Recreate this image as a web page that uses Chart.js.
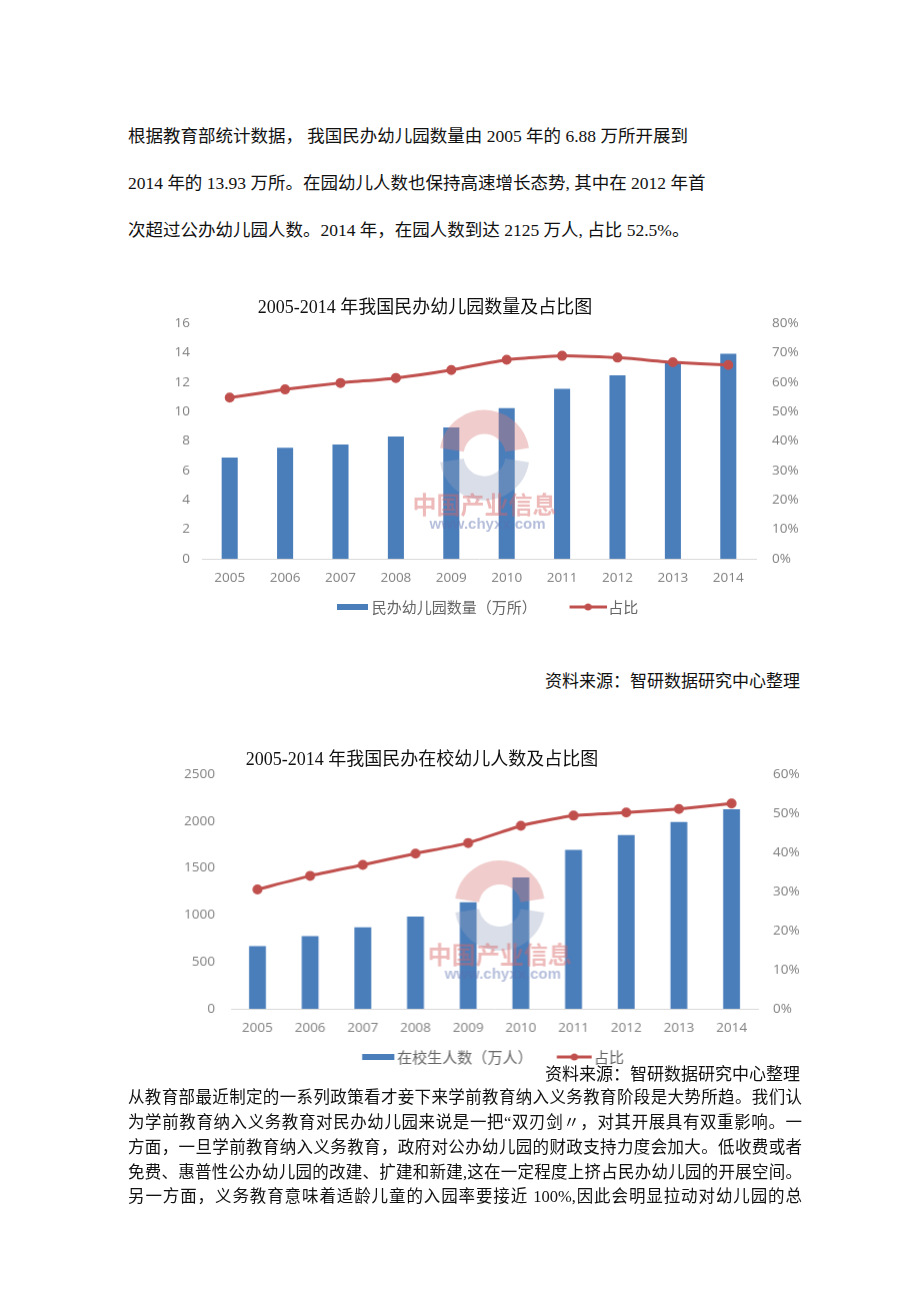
<!DOCTYPE html>
<html>
<head>
<meta charset="utf-8">
<script src="https://cdn.jsdelivr.net/npm/chart.js@4.4.1/dist/chart.umd.min.js"></script>
<style>
  body { margin: 0; background: #fff; }
  #page { position: relative; width: 920px; height: 1301px; background: #fff; overflow: hidden;
    font-family: "Liberation Serif", "Noto Sans CJK SC", serif; color: #111; }
  .ln { position: absolute; left: 128px; white-space: nowrap; font-size: 17.5px; line-height: 24px; }
  .jl { position: absolute; left: 128px; width: 674px; white-space: nowrap; font-size: 16.5px; line-height: 24px;
    text-align: justify; text-align-last: justify; }
  .src { position: absolute; right: 120px; font-size: 17px; line-height: 24px; white-space: nowrap; }
  .ttl { position: absolute; font-size: 18px; line-height: 24px; white-space: nowrap; transform: translateX(-50%); }
  .cw { position: absolute; }
</style>
</head>
<body>
<div id="page">
  <div class="ln" style="top:124px">根据教育部统计数据， 我国民办幼儿园数量由 2005 年的 6.88 万所开展到</div>
  <div class="ln" style="top:171px">2014 年的 13.93 万所。在园幼儿人数也保持高速增长态势, 其中在 2012 年首</div>
  <div class="ln" style="top:218px">次超过公办幼儿园人数。2014 年，在园人数到达 2125 万人, 占比 52.5%。</div>

  <div class="cw" style="left:160px;top:290px;width:651px;height:333.5px"><canvas id="c1"></canvas></div>
  <div class="ttl" style="left:425px;top:295px">2005-2014 年我国民办幼儿园数量及占比图</div>
  <div class="src" style="top:670px">资料来源：智研数据研究中心整理</div>

  <div class="cw" style="left:160px;top:740px;width:662.5px;height:333.5px"><canvas id="c2"></canvas></div>
  <div class="ttl" style="left:422px;top:747px">2005-2014 年我国民办在校幼儿人数及占比图</div>
  <div class="src" style="top:1063px">资料来源：智研数据研究中心整理</div>

  <div class="jl" style="top:1086px">从教育部最近制定的一系列政策看才妾下来学前教育纳入义务教育阶段是大势所趋。我们认</div>
  <div class="jl" style="top:1111px">为学前教育纳入义务教育对民办幼儿园来说是一把“双刃剑〃，对其开展具有双重影响。一</div>
  <div class="jl" style="top:1136px">方面，一旦学前教育纳入义务教育，政府对公办幼儿园的财政支持力度会加大。低收费或者</div>
  <div class="jl" style="top:1161px">免费、惠普性公办幼儿园的改建、扩建和新建,这在一定程度上挤占民办幼儿园的开展空间。</div>
  <div class="jl" style="top:1185px">另一方面，义务教育意味着适龄儿童的入园率要接近 100%,因此会明显拉动对幼儿园的总</div>
</div>

<script>
// 数据：年份、民办幼儿园数量（万所）、在校生人数（万人）及各自占比
const years = ['2005', '2006', '2007', '2008', '2009', '2010', '2011', '2012', '2013', '2014'];
const kgCount = [6.88, 7.54, 7.76, 8.31, 8.92, 10.23, 11.54, 12.46, 13.35, 13.93];
const kgShare = [0.547, 0.575, 0.597, 0.614, 0.641, 0.676, 0.689, 0.683, 0.667, 0.658];
const pupils = [668, 775, 868, 982, 1136, 1399, 1694, 1852, 1990, 2125];
const pupilShare = [0.305, 0.340, 0.368, 0.397, 0.424, 0.468, 0.494, 0.502, 0.511, 0.525];

// 刻度
const countTicks = [0, 2, 4, 6, 8, 10, 12, 14, 16];
const shareTicks1 = [0, 0.1, 0.2, 0.3, 0.4, 0.5, 0.6, 0.7, 0.8];
const pupilTicks = [0, 500, 1000, 1500, 2000, 2500];
const shareTicks2 = [0, 0.1, 0.2, 0.3, 0.4, 0.5, 0.6];

const BLUE = '#4a7ebb';
const RED = '#c0504d';
const TICK_FONT = { family: '"Open Sans", "Noto Sans CJK SC", sans-serif', size: 13.5 };

// 图例小图标（右对齐画在画布里，便于控制与文字的间距）
function icon(w, symW, draw) {
  const c = document.createElement('canvas');
  c.width = w; c.height = 12;
  draw(c.getContext('2d'), w - symW, symW);
  return c;
}
const barIcon = (w, s) => icon(w, s, (g, x0, sw) => {
  g.fillStyle = BLUE; g.fillRect(x0, 3, sw, 6);
});
const lineIcon = (w, s) => icon(w, s, (g, x0, sw) => {
  g.strokeStyle = RED; g.lineWidth = 3;
  g.beginPath(); g.moveTo(x0, 6); g.lineTo(x0 + sw, 6); g.stroke();
  g.fillStyle = RED; g.beginPath(); g.arc(x0 + sw / 2, 6, 3.5, 0, Math.PI * 2); g.fill();
});

// 水印
const watermark = {
  id: 'watermark',
  afterDatasetsDraw(chart) {
    const { ctx, chartArea: a } = chart;
    const cx = a.left + a.width * 0.51, cy = a.top + a.height * 0.56;
    ctx.save();
    ctx.lineWidth = 24;
    ctx.strokeStyle = 'rgba(215,120,120,0.38)';
    ctx.beginPath(); ctx.arc(cx, cy, 33, Math.PI * 1.05, Math.PI * 1.95); ctx.stroke();
    ctx.strokeStyle = 'rgba(150,160,190,0.35)';
    ctx.beginPath(); ctx.arc(cx, cy, 33, Math.PI * 0.05, Math.PI * 0.95); ctx.stroke();
    ctx.textAlign = 'center'; ctx.textBaseline = 'middle';
    ctx.fillStyle = 'rgba(215,100,100,0.45)';
    ctx.font = 'bold 24px "Noto Sans CJK SC"';
    ctx.fillText('中国产业信息', cx, a.top + a.height * 0.77);
    ctx.fillStyle = 'rgba(90,110,175,0.45)';
    ctx.font = 'bold 15px "Liberation Sans", sans-serif';
    ctx.fillText('www.chyxx.com', cx + 3, a.top + a.height * 0.855);
    ctx.restore();
  }
};

function makeChart(id, o) {
  const fix = (w) => (s) => { s.width = w; };
  new Chart(document.getElementById(id), {
    data: {
      labels: years,
      datasets: [
        {
          type: 'line', label: '占比', data: o.share, yAxisID: 'y1',
          borderColor: RED, backgroundColor: RED, borderWidth: 3, tension: 0.15,
          pointRadius: 3.5, pointBackgroundColor: RED, pointBorderColor: RED
        },
        {
          type: 'bar', label: o.barLabel, data: o.bars, yAxisID: 'y',
          backgroundColor: BLUE, barPercentage: o.barPct, categoryPercentage: 1
        }
      ]
    },
    options: {
      responsive: true,
      maintainAspectRatio: false,
      animation: false,
      layout: { padding: { top: o.padTop } },
      plugins: {
        tooltip: { enabled: false },
        legend: {
          position: 'bottom',
          onClick: null,
          labels: {
            usePointStyle: true,
            pointStyleWidth: o.boxW,
            padding: 12.5,
            color: '#666',
            font: { family: '"Noto Sans CJK SC", sans-serif', size: 15 },
            generateLabels: () => [
              // 末尾空白只用来拉开两个图例项的距离
              { text: o.barLabel + o.gap, pointStyle: barIcon(o.barImg[0], o.barImg[1]), fillStyle: BLUE, strokeStyle: BLUE, lineWidth: 0, hidden: false, datasetIndex: 1, fontColor: '#666' },
              { text: '占比', pointStyle: lineIcon(o.lineImg[0], o.lineImg[1]), fillStyle: RED, strokeStyle: RED, lineWidth: 0, hidden: false, datasetIndex: 0, fontColor: '#666' }
            ]
          }
        }
      },
      scales: {
        x: {
          grid: { display: false, drawTicks: false },
          border: { color: '#d9d9d9' },
          ticks: { color: '#7f7f7f', font: TICK_FONT, padding: 11, maxRotation: 0 },
          afterFit: (s) => { s.height = 28; }
        },
        y: {
          position: 'left', min: 0, max: o.leftTicks[o.leftTicks.length - 1],
          grid: { display: false, drawTicks: false }, border: { display: false },
          ticks: { color: '#7f7f7f', font: TICK_FONT, padding: o.leftPad, callback: v => String(v) },
          afterBuildTicks: (s) => { s.ticks = o.leftTicks.map(v => ({ value: v })); },
          afterFit: fix(o.leftW)
        },
        y1: {
          position: 'right', min: 0, max: o.rightTicks[o.rightTicks.length - 1],
          grid: { display: false, drawTicks: false }, border: { display: false },
          ticks: { color: '#7f7f7f', font: TICK_FONT, padding: o.rightPad, callback: v => Math.round(v * 100) + '%' },
          afterBuildTicks: (s) => { s.ticks = o.rightTicks.map(v => ({ value: v })); },
          afterFit: fix(o.rightW)
        }
      }
    },
    plugins: [watermark]
  });
}

makeChart('c1', {
  bars: kgCount, share: kgShare, barLabel: '民办幼儿园数量（万所）', gap: '\u3000\u2002\u2004',
  leftTicks: countTicks, rightTicks: shareTicks1,
  padTop: 33, leftW: 42, leftPad: 12, rightW: 55, rightPad: 16,
  barPct: 0.29, boxW: 31.5, barImg: [39, 31], lineImg: [43, 37]
});

makeChart('c2', {
  bars: pupils, share: pupilShare, barLabel: '在校生人数（万人）', gap: '\u3000\u2005',
  leftTicks: pupilTicks, rightTicks: shareTicks2,
  padTop: 34, leftW: 71, leftPad: 16, rightW: 65.5, rightPad: 15,
  barPct: 0.32, boxW: 30, barImg: [39, 32], lineImg: [41, 35]
});
</script>
</body>
</html>
